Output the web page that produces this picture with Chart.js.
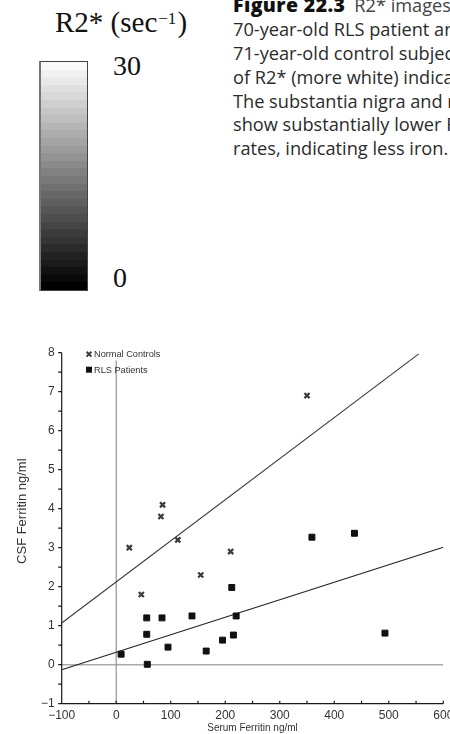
<!DOCTYPE html>
<html>
<head>
<meta charset="utf-8">
<title>Serum vs CSF Ferritin</title>
<script src="https://cdn.jsdelivr.net/npm/chart.js@4.4.0/dist/chart.umd.min.js"></script>
<style>
  html, body { margin: 0; padding: 0; background: #fff; }
  body { width: 450px; height: 734px; overflow: hidden; position: relative; }
  #r2label {
    position: absolute; left: 55px; top: 7.7px; white-space: nowrap;
    font: 29px/29px "Liberation Serif", "Times New Roman", serif; color: #111;
  }
  #r2label .sup { font-size: 17px; position: relative; top: -8px; margin-left: 1px; margin-right: 1px; }
  #scaleBar {
    position: absolute; left: 39px; top: 61px; width: 46px; height: 228px;
    border: 1px solid #444; border-left: 2px solid #777;
  }
  .scaleNum { position: absolute; left: 113px; font: 28px/28px "Liberation Serif", "Times New Roman", serif; color: #111; }
  #caption {
    position: absolute; left: 233px; top: -6.7px; white-space: nowrap;
    font: 18.2px/23.8px "Open Sans", sans-serif; color: #2b2b2b;
  }
  #caption b { font-weight: 800; font-size: 19.5px; letter-spacing: 0.4px; color: #111; }
  #caption .lead { color: #444; margin-left: 9px; }
  #chart { position: absolute; left: 0; top: 330px; }
</style>
</head>
<body>
<div id="r2label">R2* (sec<span class="sup">−1</span>)</div>
<div id="scaleBar"></div>
<div class="scaleNum" style="top:52px">30</div>
<div class="scaleNum" style="top:264px">0</div>
<div id="caption">
  <div><b>Figure 22.3</b><span class="lead">R2* images of a</span></div>
  <div>70-year-old RLS patient and a</div>
  <div>71-year-old control subject.</div>
  <div>of R2* (more white) indicate</div>
  <div>The substantia nigra and red</div>
  <div>show substantially lower R2*</div>
  <div>rates, indicating less iron.</div>
</div>
<canvas id="chart" width="480" height="404"></canvas>

<script>
// Normal controls: serum ferritin (ng/ml) and CSF ferritin (ng/ml)
const controlsSerum = [24, 85, 82, 113, 155, 46, 210, 350];
const controlsCsf   = [3.0, 4.1, 3.8, 3.2, 2.3, 1.8, 2.9, 6.9];

// RLS patients
const patientsSerum = [9, 56, 56, 57, 84, 95, 139, 165, 195, 212, 220, 215, 359, 437, 493];
const patientsCsf   = [0.27, 1.2, 0.78, 0.01, 1.2, 0.45, 1.25, 0.35, 0.63, 1.98, 1.25, 0.76, 3.27, 3.37, 0.81];

// Fitted regression lines (end points)
const controlsFitSerum = [-100, 555];
const controlsFitCsf   = [1.07, 7.97];
const patientsFitSerum = [-100, 600];
const patientsFitCsf   = [-0.13, 3.01];

// Reference lines through the origin
const zeroVertSerum = [0, 0];
const zeroVertCsf   = [-1, 7.8];
const zeroHorzSerum = [-100, 600];
const zeroHorzCsf   = [0, 0];

// Labelled tick values
const xTickLabels = [-100, 0, 100, 200, 300, 400, 500, 600];
const yTickLabels = [-1, 0, 1, 2, 3, 4, 5, 6, 7, 8];

const seriesNames = ['Normal Controls', 'RLS Patients'];

// Stepped grey ramp for the R2* scale bar
(function () {
  const steps = 30, stops = [];
  for (let i = 0; i < steps; i++) {
    const g = Math.round(250 - 250 * i / (steps - 1));
    const c = `rgb(${g},${g},${g})`;
    stops.push(`${c} ${(100 * i / steps).toFixed(3)}%`, `${c} ${(100 * (i + 1) / steps).toFixed(3)}%`);
  }
  document.getElementById('scaleBar').style.background = `linear-gradient(to bottom, ${stops.join(',')})`;
})();

const pairs = (xs, ys) => xs.map((x, i) => ({ x, y: ys[i] }));
const minus = s => String(s).replace('-', '\u2212');
const FONT = '"Liberation Sans", Arial, sans-serif';

// Axis lines with short tick marks: x ticks point up, y ticks point left
const axisMarks = {
  id: 'axisMarks',
  afterDraw(chart) {
    const { ctx, chartArea: a, scales: { x, y } } = chart;
    ctx.save();
    ctx.strokeStyle = '#1a1a1a';
    ctx.lineWidth = 1.2;
    ctx.beginPath();
    ctx.moveTo(a.left, a.top);
    ctx.lineTo(a.left, a.bottom);
    ctx.lineTo(a.right, a.bottom);
    x.ticks.forEach(t => {
      const px = x.getPixelForValue(t.value);
      ctx.moveTo(px, a.bottom);
      ctx.lineTo(px, a.bottom - 3);
    });
    y.ticks.forEach(t => {
      const py = y.getPixelForValue(t.value);
      ctx.moveTo(a.left, py);
      ctx.lineTo(a.left - 3.5, py);
    });
    ctx.stroke();

    // vertical axis title
    ctx.fillStyle = '#333';
    ctx.font = `13px ${FONT}`;
    ctx.textAlign = 'center';
    ctx.textBaseline = 'middle';
    ctx.translate(22.5, (a.top + a.bottom) / 2 - 17);
    ctx.rotate(-Math.PI / 2);
    ctx.fillText('CSF Ferritin ng/ml', 0, 0);
    ctx.restore();
  }
};

// Legend drawn inside the plot area, top-left
const innerLegend = {
  id: 'innerLegend',
  afterDatasetsDraw(chart) {
    const { ctx, chartArea: a } = chart;
    ctx.save();
    ctx.font = `9.2px ${FONT}`;
    ctx.textBaseline = 'middle';
    ctx.textAlign = 'left';
    seriesNames.forEach((name, i) => {
      const ds = chart.data.datasets[i];
      const cx = a.left + 27.3, cy = a.top + 1.5 + i * 15.5;
      if (ds.pointStyle === 'rect') {
        ctx.fillStyle = ds.backgroundColor;
        ctx.fillRect(cx - 3, cy - 3, 6, 6);
      } else {
        ctx.strokeStyle = ds.borderColor;
        ctx.lineWidth = 2;
        ctx.beginPath();
        ctx.moveTo(cx - 2.4, cy - 2.4); ctx.lineTo(cx + 2.4, cy + 2.4);
        ctx.moveTo(cx + 2.4, cy - 2.4); ctx.lineTo(cx - 2.4, cy + 2.4);
        ctx.stroke();
      }
      ctx.fillStyle = '#333';
      ctx.fillText(name, cx + 5, cy + 0.5);
    });
    ctx.restore();
  }
};

const lineSet = (xs, ys, color, width) => ({
  data: pairs(xs, ys), showLine: true, borderColor: color, borderWidth: width,
  pointRadius: 0, fill: false, tension: 0
});

new Chart(document.getElementById('chart'), {
  type: 'scatter',
  data: {
    datasets: [
      {
        label: seriesNames[0], data: pairs(controlsSerum, controlsCsf),
        pointStyle: 'crossRot', pointRadius: 3.6, borderWidth: 2.3,
        borderColor: '#3c3c3c', backgroundColor: '#3c3c3c'
      },
      {
        label: seriesNames[1], data: pairs(patientsSerum, patientsCsf),
        pointStyle: 'rect', pointRadius: 4.2, borderWidth: 1,
        borderColor: '#111', backgroundColor: '#111'
      },
      lineSet(controlsFitSerum, controlsFitCsf, '#3a3a3a', 1.1),
      lineSet(patientsFitSerum, patientsFitCsf, '#222', 1.1),
      lineSet(zeroVertSerum, zeroVertCsf, '#8a8a8a', 1.1),
      lineSet(zeroHorzSerum, zeroHorzCsf, '#aaa', 1.6)
    ]
  },
  options: {
    responsive: false,
    animation: false,
    devicePixelRatio: 1,
    layout: { padding: { left: 0, top: 22.7, right: 36.7, bottom: 0 } },
    plugins: { legend: { display: false }, tooltip: { enabled: false } },
    scales: {
      x: {
        type: 'linear', min: -100, max: 600,
        grid: { display: false, drawTicks: false }, border: { display: false },
        ticks: {
          stepSize: 50, autoSkip: false, maxRotation: 0, padding: 5,
          color: '#333', font: { family: FONT, size: 12 },
          callback: v => xTickLabels.includes(v) ? minus(v) : ''
        },
        title: {
          display: true, text: 'Serum Ferritin ng/ml', color: '#333',
          font: { family: FONT, size: 10, lineHeight: 1.06 }, padding: { top: 0, bottom: 0 }
        },
        afterFit: s => { s.height = 30.3; }
      },
      y: {
        type: 'linear', min: -1, max: 8,
        grid: { display: false, drawTicks: false }, border: { display: false },
        ticks: {
          stepSize: 0.5, autoSkip: false, padding: 7,
          color: '#333', font: { family: FONT, size: 12 },
          callback: v => yTickLabels.includes(v) ? minus(v) : ''
        },
        afterFit: s => { s.width = 61.7; }
      }
    }
  },
  plugins: [axisMarks, innerLegend]
});
</script>
</body>
</html>
